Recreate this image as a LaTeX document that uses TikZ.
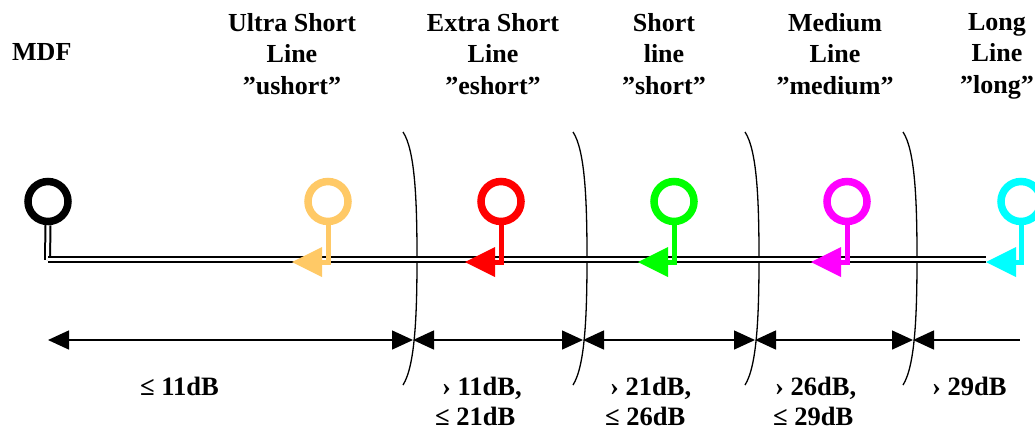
\documentclass[tikz,border=0pt]{standalone}
\usepackage{fontspec}
\setmainfont{Liberation Serif}
\usetikzlibrary{arrows.meta}
\definecolor{mkorange}{RGB}{255,201,102}
\definecolor{mkred}{RGB}{255,0,0}
\definecolor{mkgreen}{RGB}{0,255,0}
\definecolor{mkmagenta}{RGB}{255,0,255}
\definecolor{mkcyan}{RGB}{0,255,255}
\begin{document}
\begin{tikzpicture}[x=1pt,y=-1pt,
  lbl/.style={font=\bfseries\fontsize{26}{31.5}\selectfont, inner sep=0pt},
  toplbl/.style={lbl, align=center, anchor=north},
  botlbl/.style={lbl, font=\bfseries\fontsize{26.5}{30}\selectfont, align=left, anchor=north west},
  ring/.style={circle, draw=#1, line width=7.5pt, minimum size=40pt, inner sep=0pt},
  stemline/.style={draw=#1, line width=5pt, line join=miter,
    -{Triangle[length=30pt,width=30pt,line width=0pt]}},
  dbl/.style={draw=black, line width=2pt, double=white, double distance=3pt},
  dim/.style={line width=1.5pt, {Triangle[length=21pt,width=19pt]}-{Triangle[length=21pt,width=19pt]}},
  dimleft/.style={line width=1.5pt, {Triangle[length=21pt,width=19pt]}-},
  sepline/.style={line width=1.3pt}
]
\useasboundingbox (0,0) rectangle (1035,432);

% top labels
\node[lbl, anchor=base west] (mdf) at (12,60) {MDF};
\node[toplbl] (t1) at (292,13) {Ultra Short\\Line\\”ushort”};
\node[toplbl] (t2) at (493,13) {Extra Short\\Line\\”eshort”};
\node[toplbl] (t3) at (664,13) {Short\\line\\”short”};
\node[toplbl] (t4) at (835,13) {Medium\\Line\\”medium”};
\node[toplbl] (t5) at (997,13) {Long\\Line\\”long”};

% separators
\foreach \m in {417,587,759,917}{
  \draw[sepline] (\m-14,132) .. controls (\m-2,150) and (\m,200) .. (\m,258)
                 .. controls (\m,316) and (\m-2,366) .. (\m-14,385);
}

% MDF ring and main line
\node[ring=black] (k) at (48,201.5) {};
\coordinate (kc) at (47.5,260);
\coordinate (kh) at (48,259.5);
\coordinate (tip1) at (292,262);
\coordinate (tip2) at (465,262);
\coordinate (tip3) at (638,262);
\coordinate (tip4) at (811,262);
\coordinate (tip5) at (986,262);
\coordinate (lend) at (986,259.5);
\draw[dbl] (k.south) -- (kc);
\draw[dbl] (kh) -- (lend);

% coloured markers
\node[ring=mkorange] (m1) at (328,201.5) {};
\node[ring=mkred] (m2) at (501,201.5) {};
\node[ring=mkgreen] (m3) at (674,201.5) {};
\node[ring=mkmagenta] (m4) at (847,201.5) {};
\node[ring=mkcyan] (m5) at (1021,201.5) {};
\draw[stemline=mkorange] (m1.south) |- (tip1);
\draw[stemline=mkred] (m2.south) |- (tip2);
\draw[stemline=mkgreen] (m3.south) |- (tip3);
\draw[stemline=mkmagenta] (m4.south) |- (tip4);
\draw[stemline=mkcyan] (m5.south) |- (tip5);

% dimension arrows
\coordinate (d0) at (48,340);
\coordinate (d1) at (413,340);
\coordinate (d2) at (583,340);
\coordinate (d3) at (755,340);
\coordinate (d4) at (913,340);
\coordinate (d5) at (1020,340);
\draw[dim] (d0) -- (d1);
\draw[dim] (d1) -- (d2);
\draw[dim] (d2) -- (d3);
\draw[dim] (d3) -- (d4);
\draw[dimleft] (d4) -- (d5);

% bottom labels
\node[botlbl] (b1) at (140,377) {≤ 11dB};
\node[botlbl] (b2) at (435,377) {\hspace*{7pt}› 11dB,\\≤ 21dB};
\node[botlbl] (b3) at (605,377) {\hspace*{5pt}› 21dB,\\≤ 26dB};
\node[botlbl] (b4) at (773,377) {\hspace*{2pt}› 26dB,\\≤ 29dB};
\node[botlbl] (b5) at (932,377) {› 29dB};
\end{tikzpicture}
\end{document}
